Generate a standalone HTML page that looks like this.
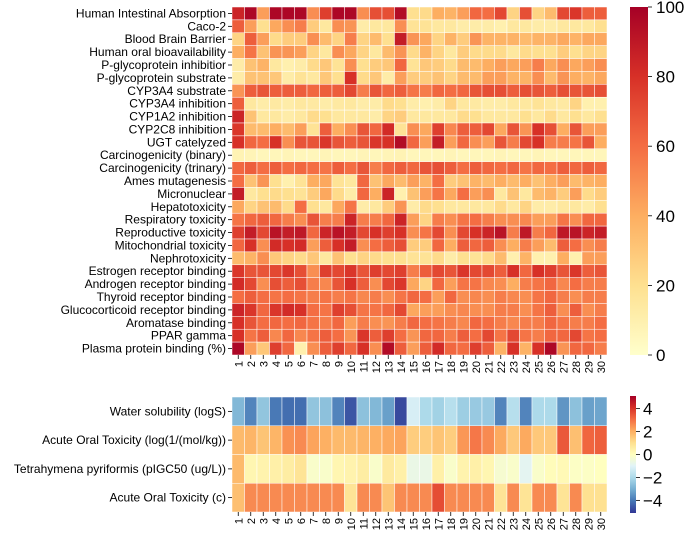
<!DOCTYPE html>
<html><head><meta charset="utf-8"><style>
html,body{margin:0;padding:0;background:#fff;}
svg{display:block;font-family:"Liberation Sans",sans-serif;}
</style></head><body>
<svg id="chart" width="685" height="537" viewBox="0 0 685 537" xmlns="http://www.w3.org/2000/svg">
<g id="top"></g>
<g id="bot"></g>
<defs>
<linearGradient id="gTop" x1="0" y1="1" x2="0" y2="0">
<stop offset="0" stop-color="#ffffcc"/><stop offset="0.2" stop-color="#fee090"/><stop offset="0.4" stop-color="#fdae61"/><stop offset="0.6" stop-color="#f46d43"/><stop offset="0.8" stop-color="#d73027"/><stop offset="1" stop-color="#a50026"/>
</linearGradient>
<linearGradient id="gBot" x1="0" y1="1" x2="0" y2="0">
<stop offset="0" stop-color="#313695"/><stop offset="0.1" stop-color="#4575b4"/><stop offset="0.2" stop-color="#74add1"/><stop offset="0.3" stop-color="#abd9e9"/><stop offset="0.4" stop-color="#e0f3f8"/><stop offset="0.5" stop-color="#ffffbf"/><stop offset="0.6" stop-color="#fee090"/><stop offset="0.7" stop-color="#fdae61"/><stop offset="0.8" stop-color="#f46d43"/><stop offset="0.9" stop-color="#d73027"/><stop offset="1" stop-color="#a50026"/>
</linearGradient>
</defs>
<rect x="630" y="7" width="18" height="348" fill="url(#gTop)"/>
<rect x="630" y="396" width="6" height="117" fill="url(#gBot)"/>
<g id="cbt"></g>
</svg>
<script>
const topRows=["Human Intestinal Absorption","Caco-2","Blood Brain Barrier","Human oral bioavailability","P-glycoprotein inhibitior","P-glycoprotein substrate","CYP3A4 substrate","CYP3A4 inhibition","CYP1A2 inhibition","CYP2C8 inhibition","UGT catelyzed","Carcinogenicity (binary)","Carcinogenicity (trinary)","Ames mutagenesis","Micronuclear","Hepatotoxicity","Respiratory toxicity","Reproductive toxicity","Mitochondrial toxicity","Nephrotoxicity","Estrogen receptor binding","Androgen receptor binding","Thyroid receptor binding","Glucocorticoid receptor binding","Aromatase binding","PPAR gamma","Plasma protein binding (%)"];
const botRows=["Water solubility (logS)","Acute Oral Toxicity (log(1/(mol/kg))","Tetrahymena pyriformis (pIGC50 (ug/L))","Acute Oral Toxicity (c)"];
const compounds=["1","2","3","4","5","6","7","8","9","10","11","12","13","14","15","16","17","18","19","20","21","22","23","24","25","26","27","28","29","30"];
const topTicks=[0,20,40,60,80,100];
const botTicks=[-4,-2,0,2,4];
const topValues=[
[85,97,45,97,97,97,50,75,97,97,50,70,70,95,20,22,40,38,45,62,60,72,25,70,25,35,72,78,65,65],
[65,45,20,42,50,55,28,15,50,48,12,15,15,50,18,18,15,15,12,12,12,10,15,15,12,12,15,15,15,20],
[25,65,45,22,28,28,50,35,25,55,25,35,20,88,48,42,25,38,28,48,38,38,38,35,38,38,42,38,42,42],
[40,58,32,48,48,45,25,15,50,42,25,15,35,48,22,38,25,15,28,22,22,22,15,22,20,20,28,20,25,25],
[12,32,38,15,10,12,22,30,18,50,20,28,30,62,18,30,28,22,35,35,40,45,42,45,55,42,50,42,45,50],
[12,32,32,30,12,18,15,30,20,80,22,30,12,45,28,28,32,25,35,35,45,45,38,38,50,35,48,40,38,42],
[48,65,68,65,65,65,62,65,65,72,55,68,62,65,58,55,62,60,62,68,70,70,65,70,68,65,70,68,68,70],
[65,15,12,14,12,15,14,12,14,15,12,12,22,20,12,10,12,25,15,14,12,12,15,15,18,15,14,25,10,10],
[85,32,15,15,12,15,22,20,15,15,15,12,25,28,15,15,15,15,22,20,15,15,15,20,15,22,15,20,15,20],
[78,35,35,40,35,45,18,65,40,50,68,62,82,18,50,42,75,52,65,65,72,42,68,48,80,70,40,68,45,45],
[80,62,60,80,50,68,68,78,68,65,68,78,80,95,62,45,88,45,62,50,45,68,55,72,80,55,55,58,68,40],
[8,7,6,6,7,6,6,7,6,6,7,6,7,8,6,6,6,7,6,6,6,7,6,6,7,6,6,6,6,6],
[62,65,60,65,60,62,60,58,65,60,68,55,62,65,62,68,70,65,60,65,62,60,62,58,62,60,65,62,65,62],
[60,32,48,20,10,18,40,42,18,15,62,32,42,35,45,38,60,28,32,38,35,40,35,40,32,40,45,35,38,40],
[88,15,20,22,20,18,28,42,22,12,62,40,85,10,32,45,58,42,60,45,50,15,32,15,35,38,28,45,22,28],
[42,25,32,35,22,60,20,15,42,58,12,15,28,48,12,22,20,15,15,15,15,22,15,25,12,12,15,15,12,20],
[58,62,65,62,55,50,68,55,55,85,55,55,62,85,45,25,55,50,58,60,55,50,50,52,45,45,58,50,62,62],
[75,88,72,92,88,90,62,85,92,88,72,80,75,80,50,58,72,50,72,80,85,92,55,90,55,62,90,92,85,88],
[62,80,50,82,80,82,45,65,80,88,50,60,65,70,28,28,62,40,65,62,65,50,40,55,45,35,65,60,50,55],
[35,38,50,30,25,22,30,15,32,20,25,22,20,20,18,18,22,12,20,18,22,35,10,38,10,10,40,10,45,45],
[78,68,68,72,78,70,50,75,72,78,68,75,72,75,55,65,72,68,78,72,72,65,80,62,80,75,68,78,65,68],
[82,72,50,70,65,70,55,52,68,80,65,50,72,78,42,25,62,45,58,58,52,50,40,55,58,62,52,60,55,55],
[60,65,60,58,60,58,55,58,55,58,52,55,50,58,62,60,45,62,50,52,50,55,52,50,58,62,55,50,55,55],
[85,78,62,78,82,80,60,58,75,70,58,58,62,72,42,45,45,50,52,50,50,55,55,50,58,65,50,65,50,55],
[80,68,60,62,60,62,58,55,62,45,55,50,48,55,62,60,58,55,52,62,60,55,52,55,55,62,58,55,55,60],
[80,58,65,52,62,52,58,65,60,48,78,65,75,60,48,62,62,55,65,60,72,58,72,58,55,62,62,72,58,60],
[97,45,30,75,62,10,50,65,75,62,80,50,95,65,45,65,82,62,60,75,65,38,80,38,80,97,48,62,62,55]
];
const waterSolubility=[-2.8,-3.8,-2.5,-4,-4.2,-4.2,-2.5,-2.6,-3.8,-4.6,-2.6,-2.8,-3.3,-4.8,-1.2,-2,-2.2,-1.8,-2.3,-2.4,-2.4,-3.8,-1.8,-3.8,-2,-2,-3.5,-2.6,-3.3,-3.2];
const acuteOralLog=[1.8,1.9,1.6,1.9,2.5,2.6,2.2,2.0,1.8,1.8,1.9,2.0,2.1,2.2,1.4,1.4,1.6,1.4,2.4,2.9,2.6,2.1,1.5,2.1,1.5,1.5,3.4,1.7,3.2,3.3];
const tetrahymena=[1.8,0.3,0.4,0.5,0.6,0.9,-0.2,-0.2,0.3,0.4,0.6,-0.2,0.7,0.5,-0.7,-0.7,0.5,-0.2,0.4,0.5,0.3,-0.3,-0.2,-0.9,-0.2,0.1,0.2,-0.1,-0.1,0];
const acuteOralC=[1.7,2.6,2.6,2.6,2.6,2.6,2.6,2.6,2.6,0.9,2.6,2.6,1.6,2.6,2.6,2.6,3.6,2.6,2.6,2.6,2.6,0.9,2.6,0.9,2.6,2.6,0.9,2.6,1.0,1.0];
const botValues=[waterSolubility,acuteOralLog,tetrahymena,acuteOralC];

const NS="http://www.w3.org/2000/svg";
const X0=232,X1=607,TY0=7,TY1=355,BY0=397,BY1=512;
const cw=(X1-X0)/compounds.length;
const xPos=i=>X0+i*cw;
const tyPos=r=>TY0+r*(TY1-TY0)/topRows.length;
const byPos=r=>BY0+r*(BY1-BY0)/botRows.length;
const topStops=["#ffffcc","#fee090","#fdae61","#f46d43","#d73027","#a50026"];
const botStops=["#313695","#4575b4","#74add1","#abd9e9","#e0f3f8","#ffffbf","#fee090","#fdae61","#f46d43","#d73027","#a50026"];
function hex(h){return [1,3,5].map(i=>parseInt(h.substr(i,2),16));}
function interp(stops,t){t=Math.max(0,Math.min(1,t));const n=stops.length-1;const k=Math.min(n-1,Math.floor(t*n));const f=t*n-k;const a=hex(stops[k]),b=hex(stops[k+1]);return "rgb("+a.map((v,i)=>Math.round(v+(b[i]-v)*f)).join(",")+")";}
const topColor=v=>interp(topStops,v/100);
const BMIN=-5.1,BMAX=5.1;
const botColor=v=>interp(botStops,(v-BMIN)/(BMAX-BMIN));
function mk(tag,attrs,parent,text){const e=document.createElementNS(NS,tag);for(const k in attrs)e.setAttribute(k,attrs[k]);if(text!==undefined)e.textContent=text;parent.appendChild(e);return e;}

const gt=document.getElementById('top'),gb=document.getElementById('bot'),gc=document.getElementById('cbt');
topValues.forEach((row,r)=>row.forEach((v,c)=>{
  const e=mk('rect',{x:xPos(c),y:tyPos(r),width:cw,height:tyPos(r+1)-tyPos(r),fill:topColor(v),stroke:'#fff','stroke-width':0.5},gt);
  
  
}));
botValues.forEach((row,r)=>row.forEach((v,c)=>{
  const e=mk('rect',{x:xPos(c),y:byPos(r),width:cw,height:byPos(r+1)-byPos(r),fill:botColor(v),stroke:'#fff','stroke-width':0.5},gb);
  
  
}));
topRows.forEach((name,r)=>{
  const y=(tyPos(r)+tyPos(r+1))/2;
  mk('line',{x1:228,x2:232,y1:y,y2:y,stroke:'#000','stroke-width':0.8},gt);
  const t=mk('text',{x:226,y:y+4,'text-anchor':'end','font-size':12},gt,name);
  
  
});
botRows.forEach((name,r)=>{
  const y=(byPos(r)+byPos(r+1))/2;
  mk('line',{x1:228,x2:232,y1:y,y2:y,stroke:'#000','stroke-width':0.8},gb);
  const t=mk('text',{x:226,y:y+4,'text-anchor':'end','font-size':12},gb,name);
  
  
});
[[TY1,gt],[BY1,gb]].forEach(([yb,g])=>compounds.forEach((lab,c)=>{
  const x=xPos(c)+cw/2;
  mk('line',{x1:x,x2:x,y1:yb,y2:yb+4,stroke:'#000','stroke-width':0.8},g);
  const t=mk('text',{x:0,y:0,'text-anchor':'end','font-size':11,transform:'translate('+(x+4)+','+(yb+6)+') rotate(-90)'},g,lab);
  
  
}));
topTicks.forEach(v=>{
  const y=TY1-(v/100)*(TY1-TY0);
  mk('line',{x1:648,x2:652,y1:y,y2:y,stroke:'#000','stroke-width':0.8},gc);
  const t=mk('text',{x:656,y:y+6,'font-size':17},gc,String(v));
  
  
});
botTicks.forEach(v=>{
  const y=513-(v-BMIN)/(BMAX-BMIN)*117;
  mk('line',{x1:636,x2:640,y1:y,y2:y,stroke:'#000','stroke-width':0.8},gc);
  const t=mk('text',{x:643,y:y+6,'font-size':17},gc,String(v).replace('-','\u2212'));
  
  
});
</script>
</body></html>
